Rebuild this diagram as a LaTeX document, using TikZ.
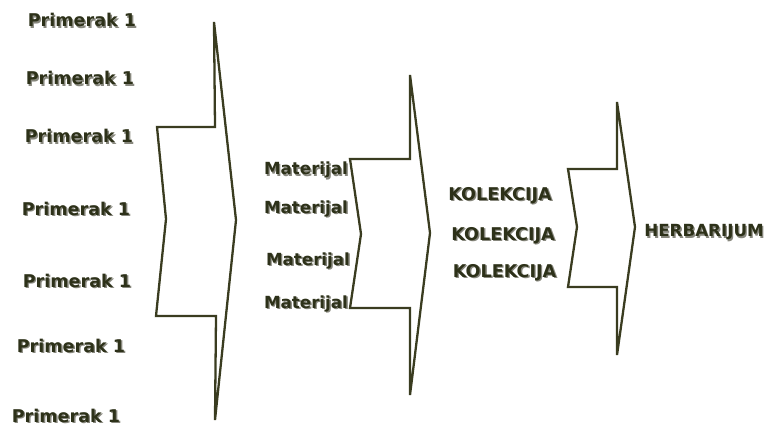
\documentclass[tikz,border=0pt]{standalone}
\usepackage{fontspec}
\setmainfont{DejaVu Sans}
\usepackage{tikz}
\usetikzlibrary{positioning}
\definecolor{myolive}{RGB}{45,49,25}
\definecolor{myline}{RGB}{58,60,32}
\definecolor{myshade}{RGB}{135,135,125}
\newcommand{\shd}[1]{\rlap{\hspace{0.8pt}\raisebox{-0.8pt}{\color{myshade}#1}}#1}
\tikzset{
  lbl/.style={anchor=base,inner sep=0pt,text=myolive,font=\bfseries\fontsize{10}{12}\selectfont},
  lblsm/.style={lbl,font=\bfseries\fontsize{9.5}{11}\selectfont},
  chev/.style={draw=myline,line width=1.3pt,fill=white}
}
\begin{document}
\begin{tikzpicture}
\useasboundingbox (0,0) rectangle (15.28,8.60);
% samples
\node[lbl] (p1) at (1.64,8.06){\shd{Primerak 1}};
\node[lbl] (p2) at (1.60,6.90){\shd{Primerak 1}};
\node[lbl] (p3) at (1.58,5.74){\shd{Primerak 1}};
\node[lbl] (p4) at (1.52,4.30){\shd{Primerak 1}};
\node[lbl] (p5) at (1.54,2.86){\shd{Primerak 1}};
\node[lbl] (p6) at (1.42,1.56){\shd{Primerak 1}};
\node[lbl] (p7) at (1.32,0.16){\shd{Primerak 1}};
\draw[chev] (4.28,8.16)--(4.72,4.20)--(4.30,0.20)--(4.32,2.28)--(3.12,2.28)
  --(3.32,4.22)--(3.14,6.06)--(4.30,6.06)--cycle;
% material
\node[lblsm] (m1) at (6.12,5.10){\shd{Materijal}};
\node[lblsm] (m2) at (6.12,4.34){\shd{Materijal}};
\node[lblsm] (m3) at (6.16,3.30){\shd{Materijal}};
\node[lblsm] (m4) at (6.12,2.44){\shd{Materijal}};
\draw[chev] (8.20,7.10)--(8.60,3.94)--(8.20,0.70)--(8.20,2.44)--(7.00,2.44)
  --(7.22,3.92)--(7.00,5.42)--(8.20,5.42)--cycle;
% collections
\node[lbl] (k1) at (10.00,4.60){\shd{KOLEKCIJA}};
\node[lbl] (k2) at (10.06,3.80){\shd{KOLEKCIJA}};
\node[lbl] (k3) at (10.09,3.06){\shd{KOLEKCIJA}};
\draw[chev] (12.34,6.56)--(12.70,4.06)--(12.34,1.50)--(12.34,2.86)--(11.36,2.86)
  --(11.54,4.06)--(11.36,5.22)--(12.34,5.22)--cycle;
\node[lblsm] (herb) at (14.08,3.86){\shd{HERBARIJUM}};
\end{tikzpicture}
\end{document}
